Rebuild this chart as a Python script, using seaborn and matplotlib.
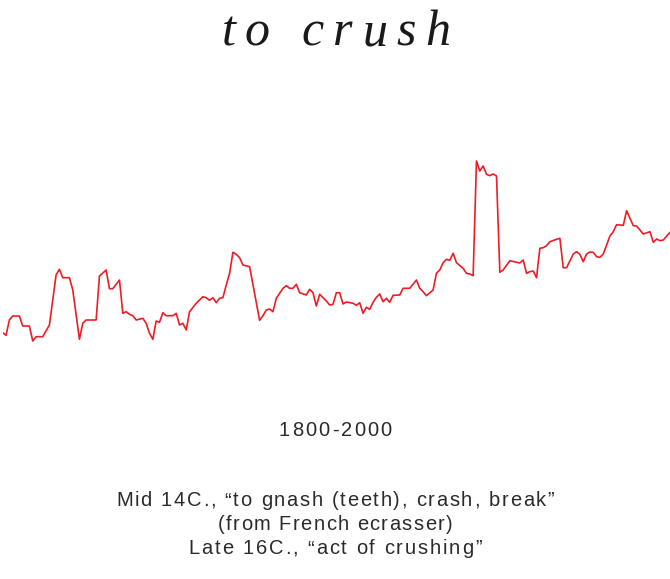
import matplotlib
matplotlib.use("Agg")
import matplotlib.pyplot as plt
import matplotlib.transforms as mtransforms
import seaborn as sns
import pandas as pd

# usage of "crush", 1800-2000 (arbitrary units)
years = [1800, 1801, 1802, 1803, 1805, 1806, 1808, 1809, 1810, 1812,
         1814, 1816, 1817, 1818, 1820, 1821, 1823, 1824, 1825, 1828,
         1829, 1831, 1832, 1833, 1835, 1836, 1837, 1838, 1839, 1840,
         1842, 1843, 1844, 1845, 1846, 1847, 1848, 1849, 1851, 1852,
         1853, 1854, 1855, 1856, 1858, 1860, 1861, 1862, 1863, 1864,
         1865, 1866, 1867, 1868, 1869, 1870, 1871, 1872, 1874, 1877,
         1878, 1879, 1880, 1881, 1882, 1884, 1885, 1886, 1887, 1888,
         1889, 1891, 1892, 1893, 1894, 1895, 1897, 1898, 1899, 1900,
         1901, 1902, 1903, 1905, 1906, 1907, 1908, 1909, 1910, 1911,
         1912, 1913, 1914, 1915, 1916, 1917, 1919, 1920, 1922, 1924,
         1925, 1926, 1927, 1929, 1930, 1931, 1932, 1933, 1934, 1935,
         1936, 1938, 1939, 1940, 1941, 1942, 1943, 1944, 1945, 1946,
         1947, 1948, 1949, 1950, 1952, 1954, 1955, 1956, 1957, 1958,
         1959, 1960, 1961, 1962, 1963, 1964, 1966, 1967, 1968, 1969,
         1971, 1972, 1973, 1974, 1975, 1976, 1977, 1978, 1979, 1980,
         1982, 1983, 1984, 1986, 1987, 1989, 1990, 1992, 1994, 1995,
         1996, 1997, 1998, 2000]
values = [27.3, 24.7, 40, 44, 44, 34, 34, 19, 23.3, 23.3,
          35, 85, 90.7, 82.3, 82.3, 70, 20.7, 36.7, 40, 40,
          84, 90, 71.3, 71.3, 80, 46.7, 48.3, 45.7, 44.3, 40,
          41.7, 36.7, 26.7, 20.7, 39, 37.7, 47.3, 44.3, 44.3, 46.7,
          35, 36.7, 30, 48.3, 56.7, 63.3, 62.3, 59.7, 62.3, 57.3,
          61.7, 62.3, 75, 86.7, 107.7, 105.7, 102.3, 95, 93.3, 39.7,
          44.3, 50, 51, 48.3, 61.7, 71.7, 74.3, 71.7, 71.7, 75.7,
          67.3, 65, 70.7, 67.3, 54, 65.7, 59, 55, 55.7, 67.3,
          67.3, 56, 58, 56.7, 54.7, 57.3, 46.7, 52.7, 50.7, 57.7,
          62.7, 66, 58.3, 61.7, 57.7, 64.7, 65, 71.7, 71.7, 80,
          71.7, 68.3, 64.3, 70, 86.7, 90, 97.3, 100.7, 99.7, 106.7,
          97.3, 91.7, 86.7, 86, 84.3, 199, 189, 194, 185.7, 184.3,
          186, 184, 87.7, 90, 99.3, 97.7, 97, 100, 86.7, 88.3,
          89, 82.3, 111.7, 112.3, 114.3, 118.3, 120.7, 121.7, 92.3, 92.3,
          106, 108.3, 105.7, 98.3, 106, 108, 107.7, 103.3, 102.7, 106,
          124, 128.3, 135.3, 134.7, 149.3, 134.3, 134, 126, 128.3, 117.7,
          121, 119.3, 120, 127.7]

title = "to crush"
period = "1800-2000"
notes = ["Mid 14C., \u201cto gnash (teeth), crash, break\u201d",
         "(from French ecrasser)",
         "Late 16C., \u201cact of crushing\u201d"]

df = pd.DataFrame({"year": years, "value": values})

sns.set_style("white")
fig = plt.figure(figsize=(6.7, 5.79), dpi=100)
ax = fig.add_axes([2.7 / 670, 219 / 579, 667.3 / 670, 220 / 579])
sns.lineplot(data=df, x="year", y="value", ax=ax, color="#ee1c25", linewidth=1.2)
ax.set_xlim(1800, 2000)
ax.set_ylim(0, 220)
ax.axis("off")

renderer = fig.canvas.get_renderer()
pix = mtransforms.IdentityTransform()


def text_width(s, **kw):
    t = fig.text(0, 0, s, transform=pix, **kw)
    w = t.get_window_extent(renderer).width
    t.remove()
    return w


# matplotlib has no letter-spacing, so lay the characters out one by one
def spaced_text(s, xc, y_top, tracking, **kw):
    bar = text_width("|", **kw)
    offs = [0.0] + [text_width(s[:i] + "|", **kw) - bar for i in range(1, len(s))]
    total = offs[-1] + text_width(s[-1], **kw) + tracking * (len(s) - 1)
    x0 = xc - total / 2
    for i, ch in enumerate(s):
        if ch == " ":
            continue
        fig.text(x0 + offs[i] + tracking * i, 579 - y_top, ch, transform=pix,
                 ha="left", va="baseline", **kw)


spaced_text(title, 336, 45, 9.5, fontsize=36, style="italic",
            family="Liberation Serif", color="#1a1a1a")

sans = dict(fontsize=14.5, family=["Liberation Sans", "DejaVu Sans"], color="#2a2a2a")
spaced_text(period, 335, 436, 2.2, **sans)
for i, (line, trk) in enumerate(zip(notes, [1.7, 1.4, 1.85])):
    spaced_text(line, 335, 506 + 24 * i, trk, **sans)

fig.savefig("out.png", dpi=100)
